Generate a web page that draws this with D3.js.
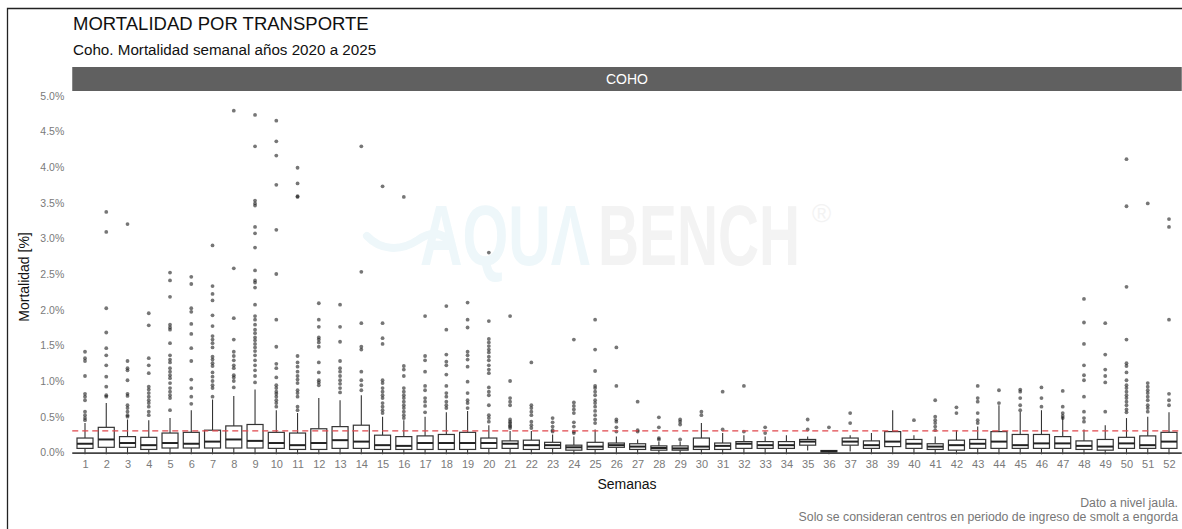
<!DOCTYPE html>
<html><head><meta charset="utf-8">
<script src="https://cdn.jsdelivr.net/npm/d3@7"></script>
<style>body{margin:0;background:#fff}svg{display:block;font-family:"Liberation Sans",Arial,sans-serif}</style>
</head><body><svg id="c" width="1182" height="529"></svg>
<script>
const weeks = d3.range(1, 53).map(String);
const q1 =    [0.055,0.07,0.07,0.04,0.06,0.06,0.06,0.06,0.06,0.055,0.04,0.04,0.055,0.055,0.04,0.04,0.04,0.04,0.04,0.055,0.055,0.04,0.055,0.03,0.04,0.07,0.04,0.03,0.03,0.04,0.04,0.055,0.055,0.055,0.10,0.005,0.10,0.055,0.08,0.055,0.04,0.03,0.055,0.055,0.055,0.055,0.055,0.04,0.03,0.055,0.055,0.055];
const median =[0.12,0.18,0.13,0.10,0.13,0.12,0.15,0.18,0.16,0.13,0.10,0.13,0.17,0.15,0.10,0.09,0.13,0.13,0.13,0.13,0.12,0.10,0.10,0.07,0.08,0.10,0.08,0.06,0.055,0.08,0.09,0.12,0.10,0.10,0.15,0.015,0.15,0.10,0.15,0.12,0.08,0.10,0.12,0.15,0.10,0.125,0.125,0.09,0.08,0.125,0.10,0.15];
const q3 =    [0.20,0.35,0.22,0.21,0.27,0.28,0.31,0.37,0.39,0.28,0.27,0.33,0.36,0.38,0.24,0.22,0.23,0.25,0.28,0.20,0.16,0.17,0.14,0.10,0.14,0.13,0.12,0.09,0.09,0.20,0.13,0.15,0.15,0.15,0.18,0.025,0.20,0.16,0.29,0.18,0.12,0.17,0.18,0.29,0.25,0.25,0.22,0.16,0.18,0.21,0.23,0.28];
const whiskerLow = [0,0,0,0,0,0,0,0,0,0,0,0,0,0,0,0,0,0,0,0,0,0,0,0,0,0,0,0,0,0,0,0,0,0,0.055,0,0.04,0,0,0,0,0,0,0,0,0,0,0,0,0,0,0];
const whiskerHigh = [0.41,0.69,0.46,0.45,0.48,0.59,0.74,0.79,0.88,0.59,0.55,0.76,0.73,0.80,0.50,0.45,0.50,0.56,0.58,0.38,0.30,0.30,0.25,0.22,0.32,0.22,0.18,0.15,0.15,0.41,0.27,0.24,0.22,0.24,0.22,0.03,0.24,0.27,0.59,0.24,0.22,0.31,0.36,0.66,0.57,0.59,0.50,0.32,0.38,0.48,0.50,0.56];
const outliers = [
 [1.41,1.32,1.28,1.07,0.82,0.78,0.73,0.57,0.52,0.48,0.45],
 [3.37,3.09,2.02,1.68,1.46,1.36,1.22,1.06,0.92,0.80,0.78],
 [3.20,1.28,1.18,1.15,1.01,0.82,0.79,0.66,0.62,0.57,0.52,0.50],
 [1.95,1.78,1.32,1.22,1.11,0.92,0.88,0.83,0.78,0.73,0.69,0.64,0.57,0.52],
 [2.52,2.41,2.18,1.79,1.75,1.72,1.53,1.36,1.30,1.26,1.18,1.13,1.08,1.04,0.97,0.90,0.85,0.80,0.76,0.59],
 [2.46,2.36,2.02,1.97,1.80,1.66,1.46,1.28,1.02,0.90,0.78,0.68],
 [2.90,2.33,2.22,2.13,1.92,1.77,1.63,1.58,1.53,1.47,1.34,1.30,1.25,1.21,1.12,1.06,1.00,0.94,0.90,0.78],
 [4.79,2.58,1.88,1.58,1.41,1.35,1.29,1.22,1.18,1.08,1.05,1.00,0.91],
 [4.73,4.29,3.53,3.49,3.46,3.16,3.07,2.87,2.55,2.41,2.38,2.31,2.07,1.91,1.86,1.79,1.72,1.67,1.61,1.57,1.52,1.47,1.42,1.36,1.29,1.22,1.15,1.07,0.98],
 [4.65,4.36,4.16,3.75,3.12,2.50,1.86,1.48,1.24,1.18,1.05,0.94,0.90,0.85,0.82,0.78,0.73,0.69,0.64],
 [3.99,3.77,3.59,3.58,1.35,1.26,1.20,1.13,1.07,1.02,0.97,0.87,0.83,0.78,0.64,0.59],
 [2.09,1.86,1.76,1.61,1.58,1.54,1.48,1.26,1.12,1.01,0.98,0.94],
 [2.07,1.76,1.55,1.28,1.18,1.13,1.07,1.01,0.96,0.90,0.84],
 [4.29,2.53,1.81,1.48,1.44,1.13,1.01,0.94,0.87],
 [3.73,1.81,1.60,1.52,1.01,0.97,0.90,0.85,0.80,0.76,0.69,0.64,0.59,0.55],
 [3.58,1.21,1.16,1.07,0.90,0.85,0.80,0.76,0.71,0.66,0.62,0.57,0.52,0.48],
 [1.91,1.35,1.29,1.13,0.93,0.87,0.76,0.71,0.65,0.56],
 [2.05,1.72,1.37,1.27,1.22,1.09,0.93,0.83,0.78,0.71,0.66,0.62],
 [2.10,1.86,1.75,1.41,1.36,1.30,1.20,0.99,0.83,0.73,0.69,0.62],
 [2.80,1.84,1.59,1.54,1.49,1.44,1.40,1.34,1.29,1.22,1.16,1.11,0.91,0.85,0.80,0.66,0.52,0.48,0.43],
 [1.91,1.00,0.76,0.71,0.66,0.46,0.43,0.41,0.38,0.36,0.34],
 [1.26,0.66,0.62,0.57,0.52,0.43,0.38,0.34],
 [0.48,0.42,0.36,0.31,0.29],
 [1.58,0.70,0.65,0.60,0.55,0.42,0.36,0.29,0.27],
 [1.86,1.44,1.14,0.93,0.90,0.85,0.80,0.73,0.69,0.64,0.58,0.52,0.46,0.41],
 [1.47,0.93,0.46,0.43,0.35,0.29],
 [0.71,0.31,0.29],
 [0.49,0.35,0.20,0.18],
 [0.46,0.43,0.39,0.18],
 [0.57,0.52],
 [0.85,0.32],
 [0.93,0.29],
 [0.35,0.27],
 [],
 [0.46,0.32],
 [0.35],
 [0.55,0.41],
 [],
 [],
 [0.45],
 [0.73,0.50,0.45,0.41,0.36,0.31],
 [0.63,0.55],
 [0.93,0.76,0.71,0.55,0.45,0.41],
 [0.87,0.69],
 [0.88,0.85,0.76,0.66,0.59],
 [0.91,0.76,0.64],
 [0.86,0.64,0.55,0.51,0.48],
 [2.15,1.82,1.52,1.22,1.08,1.01,0.78,0.57,0.48,0.43],
 [1.81,1.37,1.16,1.07,0.98,0.57],
 [4.11,3.45,2.32,1.58,1.25,1.21,1.12,1.01,0.94,0.90,0.85,0.80,0.76,0.71,0.66,0.60,0.56],
 [3.49,0.97,0.92,0.87,0.83,0.78,0.73,0.66,0.62,0.57],
 [3.27,3.16,1.86,0.82,0.73,0.66]
];
const yTicks = [0,0.5,1,1.5,2,2.5,3,3.5,4,4.5,5];
const threshold = 0.3;

const svg = d3.select("#c");
const panelL = 72.25, panelR = 1181.75, panelT = 91, zeroY = 452.3;
const x = d3.scalePoint().domain(weeks).range([panelL, panelR]).padding(0.6);
const y = d3.scaleLinear().domain([0, 5]).range([zeroY, 95.7]);

// outer border (left & top)
svg.append("path").attr("d","M7.5,529 V8.5 H1182").attr("fill","none").attr("stroke","#222").attr("stroke-width",1.3);

// titles
svg.append("text").attr("x",73).attr("y",30).attr("font-size",18.5).attr("fill","#111").text("MORTALIDAD POR TRANSPORTE");
svg.append("text").attr("x",73).attr("y",55).attr("font-size",15.2).attr("fill","#111").text("Coho. Mortalidad semanal años 2020 a 2025");

// strip
svg.append("rect").attr("x",panelL).attr("y",67).attr("width",panelR-panelL).attr("height",24).attr("fill","#606060");
svg.append("text").attr("x",(panelL+panelR)/2).attr("y",84).attr("text-anchor","middle").attr("font-size",14).attr("fill","#fff").text("COHO");

// watermark (condensed by horizontal scaling)
const wm = svg.append("g").attr("pointer-events","none");
wm.append("path").attr("d","M367,236 C380,250 400,252 418,240 C428,233 438,232 446,238").attr("fill","none").attr("stroke","#eef7fa").attr("stroke-width",8).attr("stroke-linecap","round");
function wmText(str, x0, width, fill){
  const gg = wm.append("g");
  const t = gg.append("text").attr("x",0).attr("y",0).attr("font-size",86).attr("font-family","Liberation Sans, sans-serif").attr("font-weight","bold").attr("fill",fill).text(str);
  const w = t.node().getComputedTextLength();
  gg.attr("transform",`translate(${x0},265) scale(${width/w},1)`);
}
wmText("AQUΛ", 420, 170, "#eef7fa");
wmText("BENCH", 598, 202, "#f3f3f3");
wm.append("text").attr("x",812).attr("y",222).attr("font-size",26).attr("fill","#f3f3f3").text("®");

// y axis
const gy = svg.append("g").attr("transform",`translate(${panelL},0)`)
  .call(d3.axisLeft(y).tickValues(yTicks).tickFormat(d=>d.toFixed(1)+"%").tickSize(0).tickPadding(8));
gy.select(".domain").remove();
gy.selectAll("text").attr("font-size",10.5).attr("fill","#7a7a7a").attr("font-family","Liberation Sans, Arial, sans-serif");
svg.append("text").attr("transform",`translate(29,277) rotate(-90)`).attr("text-anchor","middle").attr("font-size",14).attr("fill","#111").text("Mortalidad [%]");

// x axis
const gx = svg.append("g").attr("transform",`translate(0,${zeroY})`)
  .call(d3.axisBottom(x).tickSize(0).tickPadding(8));
gx.select(".domain").remove();
gx.selectAll("text").attr("font-size",11).attr("fill","#7a7a7a").attr("font-family","Liberation Sans, Arial, sans-serif");
svg.append("text").attr("x",627).attr("y",489).attr("text-anchor","middle").attr("font-size",14).attr("fill","#111").text("Semanas");

// boxplots
const bw = 16;
const g = svg.append("g");
weeks.forEach((w,i)=>{
  const cx = x(w);
  g.append("line").attr("x1",cx).attr("x2",cx).attr("y1",y(q3[i])).attr("y2",y(whiskerHigh[i])).attr("stroke","#333").attr("stroke-width",1.1);
  g.append("line").attr("x1",cx).attr("x2",cx).attr("y1",y(q1[i])).attr("y2",y(whiskerLow[i])+2).attr("stroke","#333").attr("stroke-width",1.1);
  g.append("rect").attr("x",cx-bw/2).attr("y",y(q3[i])).attr("width",bw).attr("height",Math.max(1,y(q1[i])-y(q3[i])))
    .attr("fill","#fff").attr("stroke","#333").attr("stroke-width",1.2);
  g.append("line").attr("x1",cx-bw/2).attr("x2",cx+bw/2).attr("y1",y(median[i])).attr("y2",y(median[i])).attr("stroke","#222").attr("stroke-width",2);
  g.selectAll(null).data(outliers[i]).enter().append("circle")
    .attr("cx",cx).attr("cy",d=>y(d)).attr("r",1.9).attr("fill","#222").attr("fill-opacity",0.62);
});

// threshold dashed line
svg.append("line").attr("x1",panelL).attr("x2",panelR).attr("y1",y(threshold)).attr("y2",y(threshold))
  .attr("stroke","#e0474c").attr("stroke-width",1.3).attr("stroke-dasharray","6,4");

// zero axis line
svg.append("line").attr("x1",panelL).attr("x2",panelR).attr("y1",zeroY+0.8).attr("y2",zeroY+0.8).attr("stroke","#444").attr("stroke-width",1.8);

// footer
svg.append("text").attr("x",1178).attr("y",507).attr("text-anchor","end").attr("font-size",12.3).attr("fill","#777").text("Dato a nivel jaula.");
svg.append("text").attr("x",1178).attr("y",521).attr("text-anchor","end").attr("font-size",12.3).attr("fill","#777").text("Solo se consideran centros en periodo de ingreso de smolt a engorda");
</script></body></html>
